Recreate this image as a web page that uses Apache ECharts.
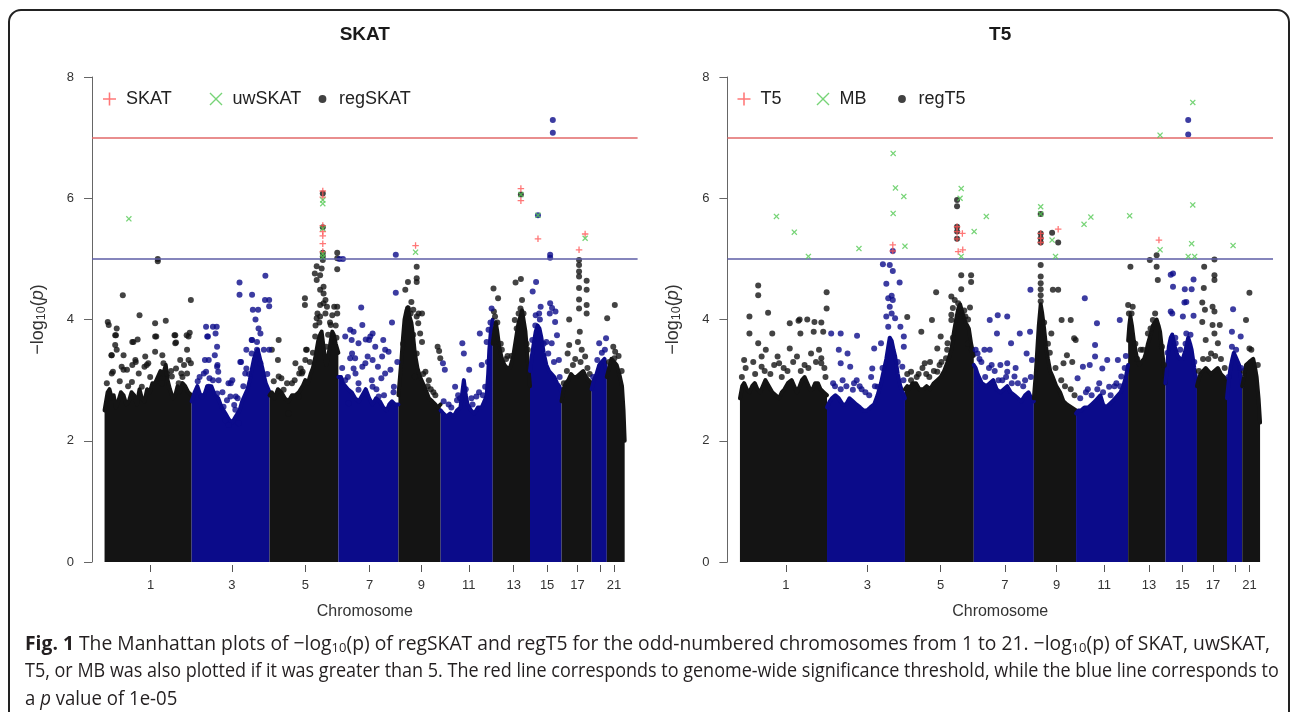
<!DOCTYPE html>
<html><head><meta charset="utf-8">
<script src="https://cdn.jsdelivr.net/npm/echarts@6/dist/echarts.min.js"></script>
<style>html,body{margin:0;padding:0;background:#fff}#c{width:1290px;height:712px}</style>
</head><body><div id="c"></div>
<script>
// ---------- data (positions in Mb along the concatenated odd chromosomes) ----------
const chromosomes = ['1','3','5','7','9','11','13','15','17','19','21'];
const chrBounds = [0,229,434,615,773,884,1021,1119,1202,1281,1321,1368];
const tickPositions = [121,335,528,697,833,958,1076,1164,1244,1303,1340];
const tickLabels = ['1','3','5','7','9','11','13','15','17','','21'];
const genomeWideLine = 7;
const suggestiveLine = 5;

// dense body of regSKAT points: upper edge per chromosome [pos, -log10 p]
const skatCore = [
 [[0,2.5],[8,2.8],[13,2.85],[19,2.7],[24,2.75],[30,2.55],[36,2.65],[43,2.8],[50,2.75],[57,2.6],[64,2.65],[71,2.8],[78,2.75],[85,2.6],[92,2.85],[98,2.7],[105,2.65],[112,2.85],[119,2.8],[126,2.95],[133,2.95],[140,3.05],[147,3.15],[154,3.1],[161,3.25],[166,3.0],[172,2.85],[180,2.7],[186,2.75],[192,2.9],[198,2.8],[205,2.95],[212,2.9],[220,2.8],[229,2.75]],
 [[229,2.65],[237,2.8],[244,2.9],[252,2.75],[262,2.75],[270,2.9],[281,2.9],[290,2.75],[299,2.7],[308,2.55],[318,2.45],[327,2.35],[336,2.3],[345,2.4],[355,2.5],[362,2.65],[369,2.75],[376,2.85],[382,3.0],[388,3.2],[393,3.35],[398,3.45],[403,3.5],[409,3.35],[415,3.2],[420,3.05],[424,2.95],[434,2.8]],
 [[434,2.75],[440,2.8],[447,2.7],[456,2.85],[465,2.8],[474,2.7],[484,2.65],[493,2.75],[502,2.75],[511,2.8],[521,2.9],[528,3.0],[535,2.95],[542,3.1],[548,3.2],[555,3.4],[562,3.65],[567,3.75],[571,3.8],[575,3.6],[579,3.4],[583,3.25],[587,3.35],[591,3.5],[595,3.65],[599,3.8],[603,3.75],[608,3.6],[615,3.45]],
 [[615,3.05],[622,3.05],[627,2.95],[632,2.95],[640,2.85],[650,2.8],[659,2.7],[669,2.65],[678,2.75],[687,2.85],[696,2.7],[705,2.6],[714,2.7],[724,2.65],[733,2.55],[742,2.5],[749,2.6],[756,2.65],[764,2.6],[773,2.6]],
 [[773,2.75],[777,3.05],[781,3.35],[785,3.7],[789,4.0],[794,4.15],[798,4.2],[802,4.05],[807,3.95],[812,3.7],[816,3.45],[823,3.2],[830,3.05],[837,2.95],[844,2.85],[853,2.7],[862,2.65],[870,2.6],[876,2.55],[884,2.6]],
 [[884,2.5],[891,2.45],[899,2.4],[909,2.45],[918,2.4],[927,2.5],[936,2.55],[941,2.8],[945,3.0],[950,2.75],[955,2.6],[964,2.5],[973,2.45],[982,2.55],[992,2.55],[999,2.65],[1005,2.75],[1009,3.1],[1012,3.5],[1016,3.8],[1021,4.0]],
 [[1021,3.6],[1025,3.8],[1029,3.95],[1033,3.8],[1038,3.55],[1045,3.35],[1052,3.25],[1059,3.2],[1066,3.2],[1071,3.3],[1075,3.4],[1080,3.6],[1085,3.8],[1089,3.95],[1094,4.05],[1098,4.15],[1102,4.0],[1107,3.8],[1112,3.4],[1119,2.9]],
 [[1119,3.15],[1124,3.4],[1130,3.65],[1134,3.8],[1139,3.9],[1144,3.85],[1149,3.7],[1155,3.45],[1162,3.25],[1169,3.15],[1176,3.1],[1183,3.05],[1190,2.95],[1196,2.9],[1202,2.8]],
 [[1202,2.65],[1207,2.85],[1213,2.95],[1220,3.0],[1227,3.1],[1234,3.05],[1241,3.05],[1250,3.1],[1259,3.15],[1266,3.05],[1273,3.0],[1281,2.95]],
 [[1281,2.85],[1287,3.0],[1294,3.1],[1301,3.25],[1308,3.3],[1315,3.35],[1321,3.1]],
 [[1321,3.05],[1327,3.2],[1333,3.35],[1340,3.3],[1347,3.25],[1354,3.1],[1361,2.9],[1365,2.5],[1368,2.0]]
];
// separate regSKAT points above the dense body
const skatRegDots = [
 [8.5,3.96],[11,3.91],[32,3.85],[30,3.74],[18,3.41],[32,3.5],[73,3.63],[87,3.67],[82,3.3],[59,3.17],[92,4.07],[133,3.94],[161,3.98],[136,3.72],[133,3.47],[105,3.22],[115,3.28],[184,3.74],[188,3.62],[216,3.74],[224,3.78],[188,3.19],[202,3.11],[209,3.25],[221,3.33],[22,3.14],[45,3.22],[73,3.25],[152,3.41],[140,5.0],[140,4.96],[48,4.4],[227,4.32],
 [28,3.74],[28,3.58],[19,3.41],[50,3.41],[76,3.63],[81,3.33],[107,3.39],[111,3.25],[133,3.72],[155,3.28],[186,3.74],[186,3.61],[199,3.33],[221,3.72],[217,3.5],[227,3.28],[19,3.11],[50,3.17],[90,3.11],[72,2.97],[177,3.06],[195,2.95],[217,3.11],[6,2.95],[98,2.89],[151,2.95],[40,2.98],[62,2.9],[120,3.05],[165,3.1],[175,3.15],[205,3.05],
 [267,3.88],[285,3.88],[295,3.88],[272,3.72],[292,3.77],[264,3.33],[267,3.14],[290,3.41],[297,3.25],[299,3.14],[276,3.03],[336,3.0],[332,2.95],[345,2.73],[322,2.67],[327,2.26],[341,2.59],[359,3.3],[373,3.19],[387,3.66],[397,4.0],[405,3.85],[410,3.77],[401,3.63],[419,3.5],[433,3.5],[373,3.5],[387,3.44],[355,4.61],[355,4.41],[388,4.41],[423,4.72],[422,4.32],[433,4.32],[433,4.22],[390,4.16],[404,4.16],
 [270,3.72],[296,3.55],[274,3.33],[296,3.22],[261,3.11],[300,3.0],[326,2.95],[357,3.3],[370,3.11],[331,2.73],[344,2.51],[313,2.56],[296,2.78],[388,3.66],[401,3.5],[410,3.28],[274,2.89],[256,2.73],[318,2.34],[353,2.29],[245,2.98],[250,3.05],[285,3.0],[310,2.8],[350,2.7],[365,2.9],[380,3.1],[428,3.1],
 [530,3.5],[516,3.19],[512,3.11],[465,3.03],[456,3.33],[521,3.14],[576,4.27],[585,4.21],[604,4.21],[567,4.05],[599,4.07],[595,3.91],[527,4.35],[527,4.24],[574,6.08],[574,5.52],[574,5.1],[574,5.04],[574,4.98],[558,4.88],[571,4.84],[553,4.76],[567,4.73],[558,4.65],[576,4.54],[567,4.49],[576,4.43],[581,4.32],[567,4.24],[581,4.1],[558,4.02],[612,5.1],[612,5.01],[612,4.83],[612,4.21],[612,4.1],[555,3.9],[560,4.1],[565,3.95],[588,3.75],[593,3.95],[608,3.9],[610,3.7],
 [440,3.5],[458,3.66],[502,3.28],[519,3.11],[532,3.5],[554,3.72],[493,2.95],[471,2.84],[510,2.73],[458,3.06],[484,2.45],[528,3.33],[445,2.98],[480,2.95],[500,3.0],[540,3.3],[548,3.45],[583,3.55],
 [618,5.0],[627,5.0],[675,4.2],[766,5.07],[766,4.44],[646,3.83],[655,3.8],[650,3.66],[678,3.91],[705,3.77],[687,3.67],[696,3.66],[733,3.66],[738,3.5],[747,3.47],[756,3.95],[770,3.3],[646,3.36],[659,3.36],[655,3.19],[678,3.22],[692,3.39],[705,3.33],[719,3.22],[728,3.03],[752,3.17],[761,2.89],[668,2.95],[705,2.89],
 [633,3.72],[668,3.61],[699,3.72],[712,3.55],[730,3.39],[651,3.44],[686,3.28],[660,3.11],[633,3.0],[703,3.0],[738,3.11],[668,2.84],[721,2.73],[642,2.62],[625,3.2],[640,3.05],[715,2.85],[735,2.75],[760,2.8],
 [821,4.87],[821,4.68],[821,4.62],[798,4.62],[791,4.49],[807,4.29],[798,4.18],[812,4.16],[826,4.1],[835,4.1],[821,4.05],[825,3.94],[830,3.77],[835,3.63],[821,3.44],[844,3.14],[853,3.0],[816,3.06],[876,3.55],[880,3.48],[883,3.36],[850,2.9],[865,2.8],[785,3.6],[805,4.1],[812,3.75],[838,3.1],[858,2.85],[870,2.75],
 [890,3.28],[895,3.17],[941,3.61],[945,3.44],[959,3.17],[987,3.77],[992,3.25],[1010,3.83],[1005,3.63],[922,2.89],[927,2.67],[978,2.73],[1001,2.89],[1018,4.18],[905,2.6],[930,2.75],[965,2.7],[985,2.8],[892,2.65],[912,2.55],[935,2.7],[950,2.85],[968,2.6],[995,2.75],[1008,3.3],[1015,3.95],
 [1023,4.51],[1035,4.35],[1024,4.13],[1095,6.06],[1095,4.67],[1081,4.61],[1098,4.32],[1094,4.18],[1089,4.1],[1079,3.99],[1060,3.4],[1045,3.5],[1110,3.6],[1027,4.05],[1033,3.95],[1042,3.6],[1056,3.35],[1070,3.4],[1084,3.85],[1102,4.1],[1113,3.5],
 [1179,7.29],[1179,7.08],[1140,5.72],[1172,5.07],[1172,5.02],[1147,4.21],[1172,4.27],[1177,4.19],[1186,4.13],[1143,4.1],[1134,4.07],[1126,4.46],[1135,4.62],[1125,3.66],[1171,4.1],[1185,3.96],[1190,3.74],[1176,3.61],[1162,3.63],[1195,3.33],[1167,3.44],[1133,3.9],[1145,4.0],[1155,3.6],[1182,3.3],[1197,3.05],
 [1248,4.98],[1248,4.9],[1248,4.79],[1248,4.71],[1268,4.64],[1248,4.52],[1268,4.49],[1248,4.33],[1268,4.24],[1248,4.18],[1268,4.1],[1222,4.0],[1250,3.8],[1222,3.58],[1218,3.44],[1245,3.63],[1255,3.5],[1264,3.39],[1208,2.95],[1216,3.15],[1232,3.25],[1238,3.35],[1252,3.3],[1270,3.2],[1276,3.1],
 [1301,3.61],[1319,3.69],[1296,3.33],[1285,3.05],[1308,3.45],[1316,3.5],
 [1342,4.24],[1322,4.02],[1343,3.47],[1341,3.36],[1327,3.3],[1338,3.55],[1352,3.4],[1360,3.15]
];
const skatDots = [[574,6.12],[574,6.02],[574,5.55],[574,5.45],[574,5.38],[574,5.25],[574,5.12],[818,5.22],[1095,6.16],[1095,5.96],[1140,5.33],[1248,5.15],[1264,5.41]];
const uwSkatDots = [[64,5.66],[574,5.97],[574,5.91],[574,5.5],[574,5.08],[574,5.03],[818,5.11],[1095,6.06],[1140,5.72],[1264,5.34]];

const t5Core = [
 [[0,2.7],[6,2.9],[11,2.95],[18,2.85],[25,2.8],[32,2.9],[39,2.95],[46,2.85],[53,2.8],[60,2.9],[67,3.0],[76,2.9],[85,2.8],[94,2.75],[103,2.7],[110,2.8],[117,2.85],[126,2.95],[136,3.0],[143,2.9],[150,2.8],[157,2.9],[163,3.0],[170,3.05],[177,2.95],[184,2.85],[191,2.85],[198,2.95],[205,2.95],[212,2.85],[220,2.8],[229,2.75]],
 [[229,2.55],[236,2.65],[242,2.7],[251,2.75],[260,2.7],[270,2.6],[279,2.6],[288,2.7],[297,2.65],[306,2.6],[316,2.55],[325,2.5],[334,2.5],[343,2.55],[353,2.6],[362,2.75],[371,2.95],[378,3.15],[385,3.35],[390,3.55],[394,3.7],[399,3.65],[404,3.5],[408,3.4],[415,3.1],[422,2.9],[428,2.8],[434,2.7]],
 [[434,2.85],[440,2.9],[445,2.85],[454,2.95],[463,2.95],[472,2.85],[482,2.85],[491,2.9],[500,2.85],[510,2.95],[519,3.0],[528,3.05],[537,3.15],[546,3.3],[556,3.5],[563,3.8],[570,4.05],[575,4.2],[579,4.25],[586,4.1],[593,3.95],[598,3.9],[602,3.85],[608,3.6],[615,3.4]],
 [[615,3.25],[620,3.2],[625,3.1],[636,2.95],[648,2.9],[657,2.95],[666,3.0],[675,2.85],[685,2.8],[694,2.85],[703,2.9],[712,2.8],[722,2.75],[731,2.7],[740,2.65],[750,2.75],[759,2.8],[766,2.7],[773,2.65]],
 [[773,2.7],[778,3.1],[782,3.5],[786,3.9],[791,4.25],[795,4.1],[800,3.85],[805,3.55],[810,3.35],[816,3.15],[823,3.05],[832,2.9],[842,2.8],[851,2.65],[860,2.6],[872,2.55],[884,2.5]],
 [[884,2.45],[890,2.5],[897,2.5],[906,2.55],[916,2.55],[925,2.6],[934,2.65],[941,2.7],[948,2.75],[955,2.6],[962,2.55],[971,2.6],[980,2.65],[987,2.7],[994,2.75],[1001,2.8],[1008,2.9],[1015,3.05],[1021,3.25]],
 [[1021,3.65],[1024,3.9],[1027,4.05],[1031,3.9],[1036,3.65],[1043,3.4],[1050,3.25],[1056,3.3],[1063,3.35],[1068,3.45],[1073,3.6],[1080,3.75],[1086,3.9],[1091,3.95],[1096,4.0],[1101,3.9],[1105,3.8],[1112,3.4],[1119,2.95]],
 [[1119,2.95],[1124,3.25],[1128,3.55],[1133,3.7],[1137,3.75],[1144,3.55],[1151,3.4],[1158,3.35],[1165,3.35],[1172,3.5],[1179,3.7],[1184,3.6],[1188,3.5],[1195,3.2],[1202,2.95]],
 [[1202,2.9],[1206,3.0],[1211,3.1],[1218,3.15],[1225,3.2],[1232,3.15],[1239,3.1],[1248,3.15],[1257,3.2],[1265,3.1],[1273,3.05],[1281,3.0]],
 [[1281,2.7],[1285,2.95],[1290,3.2],[1295,3.35],[1299,3.45],[1306,3.35],[1313,3.25],[1321,2.9]],
 [[1321,2.9],[1326,3.05],[1331,3.25],[1340,3.3],[1350,3.35],[1355,3.2],[1359,3.05],[1364,2.7],[1368,2.3]]
];
const t5RegDots = [
 [25,4.05],[25,3.77],[85,3.77],[48,3.61],[68,3.5],[131,3.94],[154,3.98],[159,3.77],[196,3.96],[214,3.95],[219,3.8],[194,3.8],[208,3.5],[214,3.36],[131,3.52],[99,3.39],[57,3.22],[48,4.56],[48,4.4],[74,4.11],[228,4.45],[228,4.18],[157,4.0],[177,4.0],[15,3.2],[35,3.3],[90,3.25],[115,3.2],[140,3.3],[170,3.25],[200,3.3],[222,3.2],
 [11,3.33],[57,3.39],[103,3.28],[150,3.39],[187,3.44],[214,3.28],[40,3.1],[125,3.15],[180,3.2],[80,3.1],[5,3.05],[65,3.15],[110,3.05],[160,3.15],[225,3.05],
 [240,3.77],[265,3.77],[308,3.73],[260,3.5],[283,3.44],[290,3.22],[265,3.28],[270,3.0],[307,3.0],[353,3.52],[348,3.19],[371,3.61],[399,4.1],[408,4.02],[390,3.88],[422,3.88],[431,3.72],[431,3.55],[427,3.22],[362,2.89],[297,2.84],[376,4.91],[394,4.9],[402,4.8],[385,4.59],[420,4.61],[399,4.39],[390,4.35],[402,4.32],[394,4.21],[385,4.05],[402,5.13],[250,2.9],[320,2.85],[340,2.75],
 [300,2.95],[330,2.8],[355,2.9],[280,2.9],[265,2.85],[345,3.05],[375,3.2],[415,3.3],[430,3.0],[245,2.95],[315,2.9],
 [440,4.04],[477,3.8],[505,3.99],[528,3.72],[546,3.61],[556,3.99],[519,3.52],[500,3.3],[486,3.28],[450,3.14],[519,3.14],[542,3.36],[516,4.45],[571,5.97],[571,5.87],[571,5.53],[571,5.45],[571,5.33],[582,4.73],[608,4.73],[608,4.62],[582,4.5],[556,4.38],[565,4.32],[574,4.27],[560,4.19],[579,4.13],[556,4.08],[593,4.05],[600,4.0],[605,4.2],[590,4.15],[470,3.1],[530,3.3],
 [450,3.0],[465,3.05],[490,3.1],[510,3.15],[525,3.25],[545,3.5],[560,3.7],[600,3.6],[610,3.5],[480,3.2],[440,3.1],[498,3.05],
 [678,4.07],[703,4.05],[657,3.99],[676,3.77],[625,3.44],[643,3.5],[657,3.5],[662,3.25],[685,3.25],[703,3.28],[713,3.61],[736,3.77],[763,3.8],[754,3.44],[768,3.33],[703,3.14],[722,3.06],[731,2.95],[764,4.49],[630,3.35],[690,3.0],[745,2.9],
 [620,3.5],[635,3.3],[655,3.2],[670,3.15],[700,3.05],[715,2.95],[725,3.2],[750,3.0],[765,3.05],[645,3.05],[680,3.0],
 [846,3.99],[870,3.99],[819,3.77],[879,3.69],[883,3.66],[851,3.28],[874,3.3],[860,3.41],[791,5.74],[791,5.42],[791,5.34],[791,5.27],[821,5.43],[837,5.27],[791,4.9],[791,4.71],[791,4.6],[791,4.5],[791,4.4],[791,4.3],[823,4.49],[837,4.49],[810,3.6],[830,3.2],
 [800,3.95],[815,3.45],[845,3.0],[855,2.9],[870,2.85],[880,2.75],
 [939,3.94],[934,3.58],[934,3.39],[920,3.25],[953,3.19],[966,3.33],[999,3.99],[994,3.33],[1003,3.06],[902,3.22],[888,3.03],[971,2.89],[907,4.35],[910,2.8],[945,2.95],[985,2.9],[1015,3.4],
 [895,2.7],[915,2.85],[925,2.75],[940,2.85],[955,2.8],[975,2.75],[990,2.95],[1000,2.9],[1012,3.2],
 [1027,4.87],[1021,4.24],[1033,4.21],[1023,4.1],[1078,4.98],[1096,5.06],[1096,4.87],[1099,4.65],[1086,3.99],[1073,3.77],[1054,3.5],
 [1040,3.6],[1060,3.5],[1080,3.85],[1110,3.55],[1115,3.25],[1045,3.35],[1030,4.1],[1092,4.1],
 [1137,4.1],[1169,4.28],[1165,4.05],[1193,4.06],[1146,3.61],[1174,3.77],[1179,7.29],[1179,7.05],[1133,4.74],[1139,4.76],[1139,4.54],[1170,4.5],[1188,4.5],[1193,4.66],[1174,4.29],[1133,4.13],
 [1125,3.45],[1145,3.7],[1158,3.5],[1172,3.6],[1185,3.75],[1195,3.3],
 [1216,4.28],[1216,3.96],[1248,4.13],[1243,3.91],[1262,3.91],[1225,3.66],[1248,3.77],[1257,3.61],[1239,3.44],[1221,4.87],[1248,4.99],[1248,4.73],[1248,4.65],[1220,4.52],[1223,4.16],[1243,4.21],
 [1207,3.15],[1218,3.35],[1232,3.35],[1250,3.4],[1265,3.35],[1275,3.2],
 [1297,4.17],[1294,3.8],[1317,3.72],[1294,3.55],[1285,3.05],[1305,3.5],[1318,3.2],
 [1331,3.99],[1340,3.52],[1340,4.44],[1325,3.15],[1345,3.5],[1362,3.25]
];
const t5Dots = [[402,5.23],[402,5.13],[571,5.53],[571,5.45],[571,5.33],[585,5.42],[574,5.12],[586,5.15],[791,5.42],[791,5.34],[791,5.27],[837,5.49],[1102,5.31]];
const mbDots = [[96,5.7],[143,5.44],[180,5.04],[313,5.17],[403,6.74],[409,6.17],[431,6.03],[403,5.75],[434,5.21],[582,6.16],[579,6.0],[582,5.04],[616,5.45],[648,5.7],[791,5.86],[791,5.74],[821,5.31],[830,5.04],[905,5.57],[923,5.69],[1025,5.71],[1105,5.15],[1105,7.04],[1191,7.58],[1191,5.89],[1188,5.25],[1179,5.04],[1196,5.04],[1297,5.22]];

// ---------- styles ----------
const MASS = ['#141414', '#0b0b8a'];
const RED = '#ff5555', GREEN = '#55c955';
const RED_LINE = '#e26868', BLUE_LINE = '#5c5ca6';
const FONT = 'Liberation Sans, Arial, sans-serif';
const PT_PLUS = 'path://M4,0H6V4H10V6H6V10H4V6H0V4H4Z';
const PT_CROSS = 'path://M0,1.5L1.5,0L5,3.5L8.5,0L10,1.5L6.5,5L10,8.5L8.5,10L5,6.5L1.5,10L0,8.5L3.5,5Z';
const LG_PLUS = 'path://M4.4,0H5.6V4.4H10V5.6H5.6V10H4.4V5.6H0V4.4H4.4Z';
const LG_CROSS = 'path://M0,0.75L0.75,0L5,4.25L9.25,0L10,0.75L5.75,5L10,9.25L9.25,10L5,5.75L0.75,10L0,9.25L4.25,5Z';
const LG_DOT = 'path://M0,0L0.01,0L0,0.01ZM10,10L9.99,10L10,9.99ZM5,2A3,3,0,1,1,4.99,2Z';

function chrIndexOf(pos) {
  for (let i = 0; i < chrBounds.length - 1; i++) if (pos < chrBounds[i + 1]) return i;
  return chrBounds.length - 2;
}
function splitByColour(points) {
  const out = [[], []];
  points.forEach(p => out[chrIndexOf(p[0]) % 2].push(p));
  return out;
}

function panelSeries(i, names, core, reg, plus, cross) {
  const s = [];
  const parts = splitByColour(reg);
  [0, 1].forEach(k => s.push({
    type: 'scatter', name: names[2], xAxisIndex: i, yAxisIndex: i, data: parts[k],
    symbol: 'circle', symbolSize: 6, itemStyle: { color: MASS[k] }, z: 3, silent: true
  }));
  s.push({ type: 'scatter', name: names[0], xAxisIndex: i, yAxisIndex: i, data: plus,
    symbol: PT_PLUS, symbolSize: 6.5, itemStyle: { color: RED }, z: 4, silent: true });
  s.push({ type: 'scatter', name: names[1], xAxisIndex: i, yAxisIndex: i, data: cross,
    symbol: PT_CROSS, symbolSize: 6, itemStyle: { color: GREEN }, z: 5, silent: true });
  core.forEach((prof, c) => {
    const ser = {
      type: 'line', name: names[2], xAxisIndex: i, yAxisIndex: i, data: prof,
      symbol: 'none', showSymbol: false, smooth: false,
      lineStyle: { width: 4, color: MASS[c % 2], join: 'round', cap: 'round' },
      areaStyle: { color: MASS[c % 2], opacity: 1 }, z: 2, silent: true
    };
    if (c === 0) {
      ser.markLine = {
        silent: true, symbol: ['none', 'none'], label: { show: false },
        data: [
          { yAxis: genomeWideLine, lineStyle: { color: RED_LINE, width: 1.5, type: 'solid' } },
          { yAxis: suggestiveLine, lineStyle: { color: BLUE_LINE, width: 1.5, type: 'solid' } }
        ]
      };
    }
    s.push(ser);
  });
  return s;
}

const labelPositions = tickPositions.filter((p, k) => tickLabels[k] !== '');
function xAxisCfg(gi) {
  return {
    gridIndex: gi, type: 'value', min: -33, max: 1402, offset: 3,
    axisLine: { show: false, onZero: false },
    splitLine: { show: false },
    axisTick: { show: true, length: 7, customValues: tickPositions, lineStyle: { color: '#555' } },
    axisLabel: { customValues: labelPositions, margin: 14, fontSize: 13, fontFamily: FONT, color: '#333',
      formatter: v => tickLabels[tickPositions.indexOf(v)] },
    name: 'Chromosome', nameLocation: 'middle', nameGap: 39,
    nameTextStyle: { fontSize: 16, fontFamily: FONT, color: '#333' }
  };
}
function yAxisCfg(gi) {
  return {
    gridIndex: gi, type: 'value', min: 0, max: 8, interval: 2,
    axisLine: { show: true, onZero: false, lineStyle: { color: '#666', width: 1 } },
    axisTick: { show: true, length: 8, lineStyle: { color: '#666' } },
    splitLine: { show: false },
    axisLabel: { margin: 18, fontSize: 13, fontFamily: FONT, color: '#333' },
    name: '{t|−log}{s|10}{t|(}{i|p}{t|)}', nameLocation: 'middle', nameRotate: 90, nameGap: 44,
    nameTextStyle: { rich: {
      t: { fontSize: 18, fontFamily: FONT, color: '#333' },
      s: { fontSize: 12.5, fontFamily: FONT, color: '#333', padding: [7, 0, 0, 0] },
      i: { fontSize: 18, fontFamily: FONT, color: '#333', fontStyle: 'italic' }
    } }
  };
}
function legendCfg(left, textW, names) {
  return {
    left: left, top: 90, padding: 0, orient: 'horizontal', itemWidth: 13, itemHeight: 13, itemGap: 13.5,
    selectedMode: false,
    textStyle: { fontFamily: FONT, fontSize: 18, color: '#222', width: textW, padding: [0, 0, 0, 5], lineHeight: 18 },
    data: [
      { name: names[0], icon: LG_PLUS, itemStyle: { color: RED } },
      { name: names[1], icon: LG_CROSS, itemStyle: { color: GREEN } },
      { name: names[2], icon: LG_DOT, itemStyle: { color: '#111' } }
    ]
  };
}

const captionLines = [
  '{b|Fig. 1} The Manhattan plots of −log{s|10}(p) of regSKAT and regT5 for the odd-numbered chromosomes from 1 to 21. −log{s|10}(p) of SKAT, uwSKAT,',
  'T5, or MB was also plotted if it was greater than 5. The red line corresponds to genome-wide significance threshold, while the blue line corresponds to',
  'a {i|p} value of 1e-05'
];
const captionScale = [0.965, 0.9, 0.93];
const CAP_FONT = 'Open Sans';
const capRich = {
  b: { fontFamily: CAP_FONT, fontSize: 20, fontWeight: 'bold', fill: '#231f20' },
  s: { fontFamily: CAP_FONT, fontSize: 13.5, fill: '#231f20', padding: [8, 0, 0, 0] },
  i: { fontFamily: CAP_FONT, fontSize: 20, fontStyle: 'italic', fill: '#231f20' }
};
const captionGraphics = captionLines.map((t, k) => ({
  type: 'text', x: 25, y: 644 + k * 27.5, scaleX: captionScale[k], silent: true,
  style: { text: t, fontFamily: CAP_FONT, fontSize: 20, fill: '#231f20', verticalAlign: 'middle', align: 'left', rich: capRich }
}));

const chart = echarts.init(document.getElementById('c'), null, { renderer: 'canvas' });
chart.setOption({
  animation: false,
  backgroundColor: '#fff',
  title: [
    { text: 'SKAT', left: 364.8, top: 25, textAlign: 'center', padding: 0,
      textStyle: { fontFamily: FONT, fontSize: 19, fontWeight: 'bold', color: '#1a1a1a' } },
    { text: 'T5', left: 1000.2, top: 25, textAlign: 'center', padding: 0,
      textStyle: { fontFamily: FONT, fontSize: 19, fontWeight: 'bold', color: '#1a1a1a' } }
  ],
  legend: [
    legendCfg(103, 70, ['SKAT', 'uwSKAT', 'regSKAT']),
    legendCfg(737.5, 42.5, ['T5', 'MB', 'regT5'])
  ],
  grid: [
    { left: 92, top: 77, width: 545.6, height: 485 },
    { left: 727.4, top: 77, width: 545.6, height: 485 }
  ],
  xAxis: [xAxisCfg(0), xAxisCfg(1)],
  yAxis: [yAxisCfg(0), yAxisCfg(1)],
  series: [].concat(
    panelSeries(0, ['SKAT', 'uwSKAT', 'regSKAT'], skatCore, skatRegDots, skatDots, uwSkatDots),
    panelSeries(1, ['T5', 'MB', 'regT5'], t5Core, t5RegDots, t5Dots, mbDots)
  ),
  graphic: [
    { type: 'rect', silent: true, shape: { x: 9, y: 10, width: 1280, height: 760, r: 12 },
      style: { fill: 'none', stroke: '#222', lineWidth: 2 } }
  ].concat(captionGraphics)
});
</script></body></html>
